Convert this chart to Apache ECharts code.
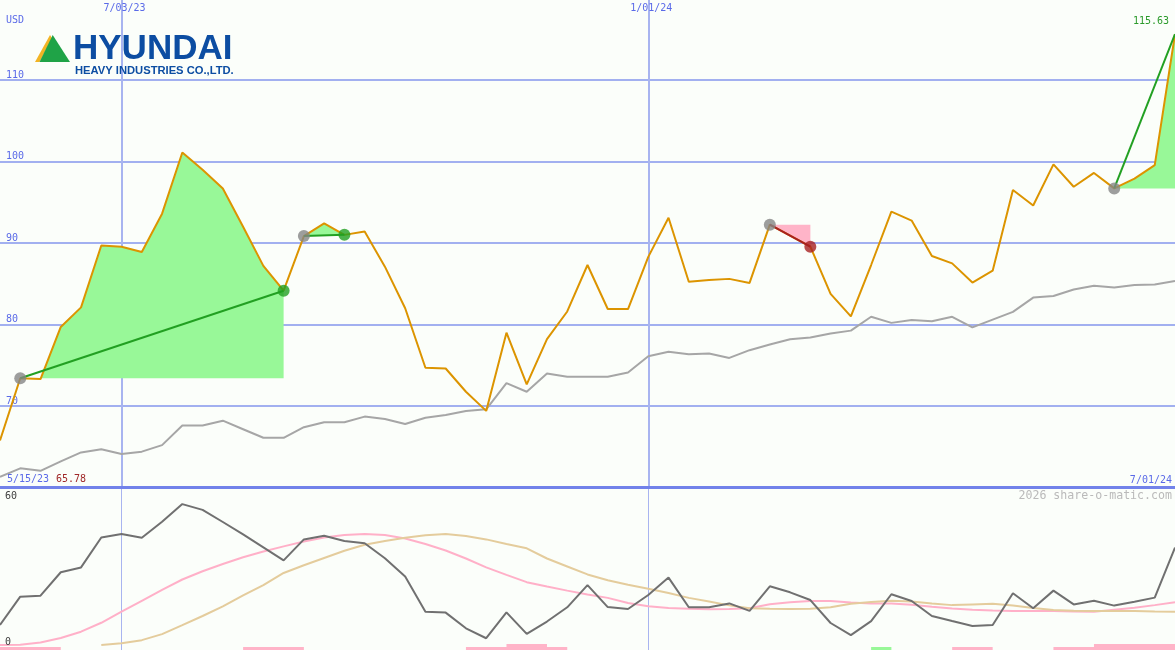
<!DOCTYPE html>
<html>
<head>
<meta charset="utf-8">
<script src="https://cdn.jsdelivr.net/npm/echarts@6/dist/echarts.min.js"></script>
<style>
html,body{margin:0;padding:0;background:#fbfefa;}
#chart{width:1175px;height:650px;}
</style>
</head>
<body>
<div id="chart"></div>
<script>
// ---------- DATA ----------
var dates = ["5/22/23","5/29/23","6/05/23","6/12/23","6/19/23","6/26/23","7/03/23","7/10/23","7/17/23","7/24/23",
"7/31/23","8/07/23","8/14/23","8/21/23","8/28/23","9/04/23","9/11/23","9/18/23","9/25/23","10/02/23",
"10/09/23","10/16/23","10/23/23","10/30/23","11/06/23","11/13/23","11/20/23","11/27/23","12/04/23","12/11/23",
"12/18/23","12/25/23","1/01/24","1/08/24","1/15/24","1/22/24","1/29/24","2/05/24","2/12/24","2/19/24",
"2/26/24","3/04/24","3/11/24","3/18/24","3/25/24","4/01/24","4/08/24","4/15/24","4/22/24","4/29/24",
"5/06/24","5/13/24","5/20/24","5/27/24","6/03/24","6/10/24","6/17/24","6/24/24","7/01/24"];

var closePrice = [65.78,73.4,73.3,79.7,82.1,89.7,89.55,88.9,93.6,101.1,
99.0,96.7,92.0,87.2,84.15,90.85,92.4,91.0,91.4,87.1,
82.0,74.7,74.6,71.75,69.4,79.0,72.65,78.2,81.6,87.3,
81.9,81.9,88.3,93.1,85.25,85.45,85.6,85.1,92.25,90.9,
89.55,83.75,81.0,87.3,93.85,92.75,88.4,87.5,85.15,86.6,
96.5,94.6,99.65,96.9,98.6,96.7,97.9,99.55,115.63];

var compareLine = [61.3,62.35,62.05,63.2,64.3,64.7,64.1,64.4,65.2,67.6,
67.6,68.2,67.15,66.1,66.1,67.4,68.0,68.0,68.7,68.4,
67.8,68.55,68.9,69.4,69.6,72.8,71.75,74.0,73.6,73.6,
73.6,74.1,76.1,76.65,76.35,76.45,75.9,76.85,77.55,78.2,
78.4,78.9,79.25,80.95,80.2,80.55,80.4,80.95,79.65,80.6,
81.55,83.3,83.5,84.3,84.75,84.55,84.85,84.9,85.35];

var oscLine = [8.3,20.0,20.4,30.1,32.1,44.5,45.9,44.4,51.0,58.3,
55.9,50.9,45.8,40.4,35.0,43.7,45.2,43.0,42.1,35.9,
28.3,13.8,13.4,6.9,2.8,13.5,4.6,9.7,15.6,24.8,
15.7,14.9,20.7,27.9,15.6,15.6,17.2,14.1,24.3,21.8,
18.6,9.1,4.1,9.9,21.0,18.2,12.0,9.9,7.9,8.3,
21.4,15.2,22.5,16.8,18.3,16.3,17.9,19.6,40.3];

var oscFast = [0,0.1,1.0,2.9,5.5,9.2,13.8,18.3,22.8,27.1,
30.5,33.5,36.3,38.7,40.8,42.8,44.5,45.5,45.9,45.5,
44.1,41.8,39.1,35.8,32.1,29.0,26.0,24.2,22.5,20.9,
19.5,17.4,16.0,15.3,15.0,14.8,14.9,15.2,16.9,17.7,
18.2,18.2,17.6,17.2,17.2,16.7,15.8,15.1,14.6,14.3,
14.1,14.1,14.1,13.9,13.8,14.6,15.4,16.5,17.7];

var oscSlow = ['-','-','-','-','-',0,0.7,2.0,4.5,8.2,
12.0,16.0,20.5,24.8,29.8,33.0,36.0,39.0,41.5,43.0,
44.4,45.4,45.9,45.1,43.7,41.8,40.0,35.8,32.5,29.2,
26.8,24.9,23.3,21.5,19.5,18.0,16.4,15.2,15.0,14.9,
15.0,15.6,17.1,17.8,18.3,18.0,17.2,16.5,16.8,17.1,
16.3,15.3,14.5,14.2,14.1,14.1,14.1,13.9,13.8];

// trades: entry index, exit index
var tradeEntry = [1, 15, 38, 55];
var tradeExit  = [14, 17, 40, 58];
var tradeOpen  = [false, false, false, true];

// signal bars: [startIndex, endIndex, level, kind]
var signalBars = [[0,3,1,'p'],[12,15,1,'p'],[23,28,1,'p'],[25,27,2,'p'],[43,44,1,'g'],[47,49,1,'p'],[52,58,1,'p'],[54,58,2,'p']];

var yTicksUpper = [70, 80, 90, 100, 110];
var markedDates = ["7/03/23", "1/01/24"];
var startLabel = "5/15/23";

// ---------- STYLE ----------
var BLUE = '#5a6ae8', MONO = 'DejaVu Sans Mono';
var GREEN_FILL = '#98f898', PINK_FILL = '#ffb4c8';
var LOWER_MIN = -2.07, LOWER_MAX = 65.38;

function isMarked(idx){ return markedDates.indexOf(dates[idx]) >= 0; }

var series = [];
// trade fills
tradeEntry.forEach(function(e, k){
  var x = tradeExit[k];
  var entryP = closePrice[e];
  var win = closePrice[x] >= entryP;
  var base = [], diff = [];
  for (var i = 0; i < dates.length; i++) {
    if (i >= e && i <= x) { base.push(entryP); diff.push(+(closePrice[i] - entryP).toFixed(3)); }
    else { base.push('-'); diff.push('-'); }
  }
  series.push({type:'line', xAxisIndex:0, yAxisIndex:0, stack:'t'+k, stackStrategy:'all', data:base,
    symbol:'none', lineStyle:{width:0, opacity:0}, silent:true, z:1});
  series.push({type:'line', xAxisIndex:0, yAxisIndex:0, stack:'t'+k, stackStrategy:'all', data:diff,
    symbol:'none', lineStyle:{width:0, opacity:0}, areaStyle:{color: win ? GREEN_FILL : PINK_FILL, opacity:1}, silent:true, z:1});
});

series.push({type:'line', xAxisIndex:0, yAxisIndex:0, data:compareLine, symbol:'none',
  lineStyle:{color:'#a6a6a6', width:2}, z:3});
series.push({type:'line', xAxisIndex:0, yAxisIndex:0, data:closePrice, symbol:'none',
  lineStyle:{color:'#dc9400', width:2}, z:4});

// trade lines and markers
var entryPts = [], exitWin = [], exitLoss = [];
tradeEntry.forEach(function(e, k){
  var x = tradeExit[k];
  var win = closePrice[x] >= closePrice[e];
  series.push({type:'line', xAxisIndex:0, yAxisIndex:0, data:[[e, closePrice[e]],[x, closePrice[x]]],
    symbol:'none', lineStyle:{color: win ? '#22a022' : '#a82020', width:2}, z:5});
  entryPts.push([e, closePrice[e]]);
  if (!tradeOpen[k]) { (win ? exitWin : exitLoss).push([x, closePrice[x]]); }
});
series.push({type:'scatter', xAxisIndex:0, yAxisIndex:0, data:entryPts, symbolSize:12, itemStyle:{color:'#868686'}, z:6});
series.push({type:'scatter', xAxisIndex:0, yAxisIndex:0, data:exitWin, symbolSize:12, itemStyle:{color:'#22a022'}, z:6});
series.push({type:'scatter', xAxisIndex:0, yAxisIndex:0, data:exitLoss, symbolSize:12, itemStyle:{color:'#a82020'}, z:6});

// lower panel
series.push({type:'line', xAxisIndex:1, yAxisIndex:1, data:oscFast, symbol:'none', lineStyle:{color:'#ffb0c8', width:2}, z:3});
series.push({type:'line', xAxisIndex:1, yAxisIndex:1, data:oscSlow, symbol:'none', lineStyle:{color:'#e4cc9c', width:2}, z:3});
series.push({type:'line', xAxisIndex:1, yAxisIndex:1, data:oscLine, symbol:'none', lineStyle:{color:'#707070', width:2}, z:4});
series.push({type:'custom', xAxisIndex:1, yAxisIndex:1, data:signalBars, z:5, silent:true,
  renderItem:function(params, api){
    var s = api.value(0), e = api.value(1), lvl = api.value(2);
    var p0 = api.coord([s, LOWER_MIN]), p1 = api.coord([e, LOWER_MIN]);
    var h = lvl * 3;
    var kind = signalBars[params.dataIndex][3];
    return {type:'rect', shape:{x:p0[0], y:p0[1]-h, width:p1[0]-p0[0], height:h},
      style:{fill: kind === 'g' ? '#98f898' : '#ffb4c8'}};
  },
  encode:{x:[0,1], y:2}
});

var txt = function(x, y, text, color, align, size){
  return {type:'text', x:x, y:y, z:20,
    style:{text:text, fill:color, font: (size||10)+'px "'+MONO+'"', textAlign:align||'left', textVerticalAlign:'middle'}};
};

var option = {
  backgroundColor:'#fbfefa',
  animation:false,
  grid:[{left:0, right:0, top:0, height:487.5}, {left:0, right:0, top:487, height:163}],
  xAxis:[
    {type:'category', gridIndex:0, data:dates, boundaryGap:false, position:'top',
     axisLine:{show:false, onZero:false}, axisTick:{show:false},
     axisLabel:{inside:true, interval:function(i){return isMarked(i);}, color:BLUE, fontFamily:MONO, fontSize:10, margin:3, padding:[0,0,0,6]},
     splitLine:{show:true, interval:function(i){return isMarked(i);}, lineStyle:{color:'#a8b4f0', width:2}}},
    {type:'category', gridIndex:1, data:dates, boundaryGap:false, position:'top',
     axisLine:{show:true, onZero:false, lineStyle:{color:'#7282ea', width:3}}, axisTick:{show:false}, axisLabel:{show:false},
     splitLine:{show:true, interval:function(i){return isMarked(i);}, lineStyle:{color:'#a8b4f0', width:1}}}
  ],
  yAxis:[
    {type:'value', gridIndex:0, min:60, max:119.82, interval:10,
     axisLine:{show:false}, axisTick:{show:false},
     axisLabel:{inside:true, showMinLabel:false, showMaxLabel:false, color:BLUE, fontFamily:MONO, fontSize:10,
       verticalAlign:'bottom', margin:6,
       formatter:function(v){ return yTicksUpper.indexOf(v) >= 0 ? String(v) : ''; }},
     splitLine:{showMaxLine:false, lineStyle:{color:'#a2b0f0', width:2}}},
    {type:'value', gridIndex:1, min:LOWER_MIN, max:LOWER_MAX,
     axisLine:{show:false}, axisTick:{show:false}, axisLabel:{show:false}, splitLine:{show:false}}
  ],
  graphic:[
    txt(6, 20, 'USD', BLUE),
    txt(7, 479, startLabel, BLUE),
    txt(56, 479, closePrice[0].toFixed(2), '#a02828'),
    txt(1172, 480, dates[dates.length-1], BLUE, 'right'),
    txt(1169, 21, closePrice[closePrice.length-1].toFixed(2), '#2a9a2a', 'right'),
    txt(1172, 496, '2026 share-o-matic.com', '#bababa', 'right', 11.6),
    txt(5, 496, '60', '#404040'),
    txt(5, 642, '0', '#404040'),
    {type:'polygon', z:20, shape:{points:[[50,35],[35,62],[39.5,62],[52,38]]}, style:{fill:'#f2b424'}},
    {type:'polygon', z:20, shape:{points:[[52.7,35],[39.5,62],[70,62]]}, style:{fill:'#1fa347'}},
    {type:'text', z:20, x:73, y:49, style:{text:'HYUNDAI', fill:'#0c4da2', font:'bold 35px "Liberation Sans"', textVerticalAlign:'middle'}},
    {type:'text', z:20, x:75, y:71, style:{text:'HEAVY INDUSTRIES CO.,LTD.', fill:'#0c4da2', font:'bold 11.2px "Liberation Sans"', textVerticalAlign:'middle'}}
  ],
  series:series
};

var chart = echarts.init(document.getElementById('chart'), null, {renderer:'canvas'});
chart.setOption(option);
</script>
</body>
</html>
